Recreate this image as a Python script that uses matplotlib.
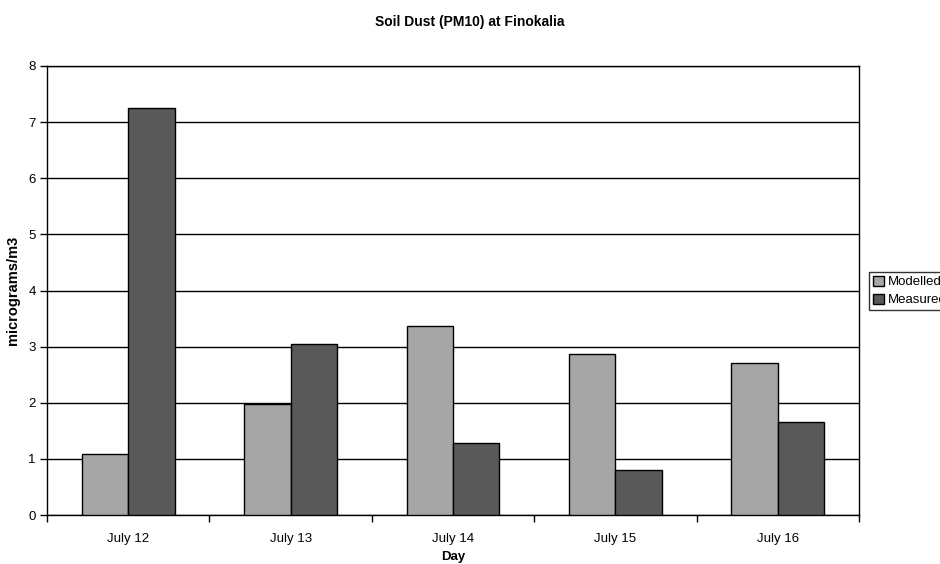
import numpy as np
import matplotlib.pyplot as plt

days = ["July 12", "July 13", "July 14", "July 15", "July 16"]
modelled = [1.09, 1.98, 3.36, 2.86, 2.71]
measured = [7.25, 3.04, 1.28, 0.80, 1.65]

plt.rcParams['font.family'] = ['Liberation Sans', 'DejaVu Sans']

fig = plt.figure(figsize=(9.4, 5.64), dpi=100)
ax = fig.add_axes([47/940, 1 - 515/564, 812/940, 449/564])

x = np.arange(len(days)) + 0.5
w = 1 / 3.5  # gap width 150%
ax.bar(x - w/2, modelled, w, color='#a6a6a6', edgecolor='black', linewidth=1, label='Modelled', zorder=3)
ax.bar(x + w/2, measured, w, color='#595959', edgecolor='black', linewidth=1, label='Measured', zorder=3)

ax.set_xlim(0, len(days))
ax.set_ylim(0, 8)
ax.set_yticks(range(0, 9))
ax.yaxis.grid(True, color='black', linewidth=1, zorder=0)
ax.set_axisbelow(True)

# category boundaries get the ticks, names sit in between
ax.set_xticks(np.arange(len(days) + 1))
ax.set_xticklabels([])
ax.set_xticks(x, minor=True)
ax.set_xticklabels(days, minor=True)
ax.tick_params(axis='x', which='major', direction='out', length=5, width=1)
ax.tick_params(axis='x', which='minor', length=0, pad=13, labelsize=9.5)
ax.tick_params(axis='y', direction='out', length=5, width=1, labelsize=9.5, pad=3)

for s in ax.spines.values():
    s.set_linewidth(1)
    s.set_color('black')

ax.set_xlabel('Day', fontsize=9.5, fontweight='bold', labelpad=4)
ax.set_ylabel('micrograms/m3', fontsize=10.5, fontweight='bold', labelpad=6)
fig.suptitle('Soil Dust (PM10) at Finokalia', fontsize=10, fontweight='bold', y=1 - 22/564, va='center')

ax.legend(loc='center left', bbox_to_anchor=(869/940, 1 - 291/564), bbox_transform=fig.transFigure,
          fontsize=9.5, frameon=True, fancybox=False, edgecolor='black', borderpad=0.3,
          handlelength=0.8, handleheight=0.8, handletextpad=0.3, labelspacing=0.4, borderaxespad=0)

fig.savefig('out.png', dpi=100)
